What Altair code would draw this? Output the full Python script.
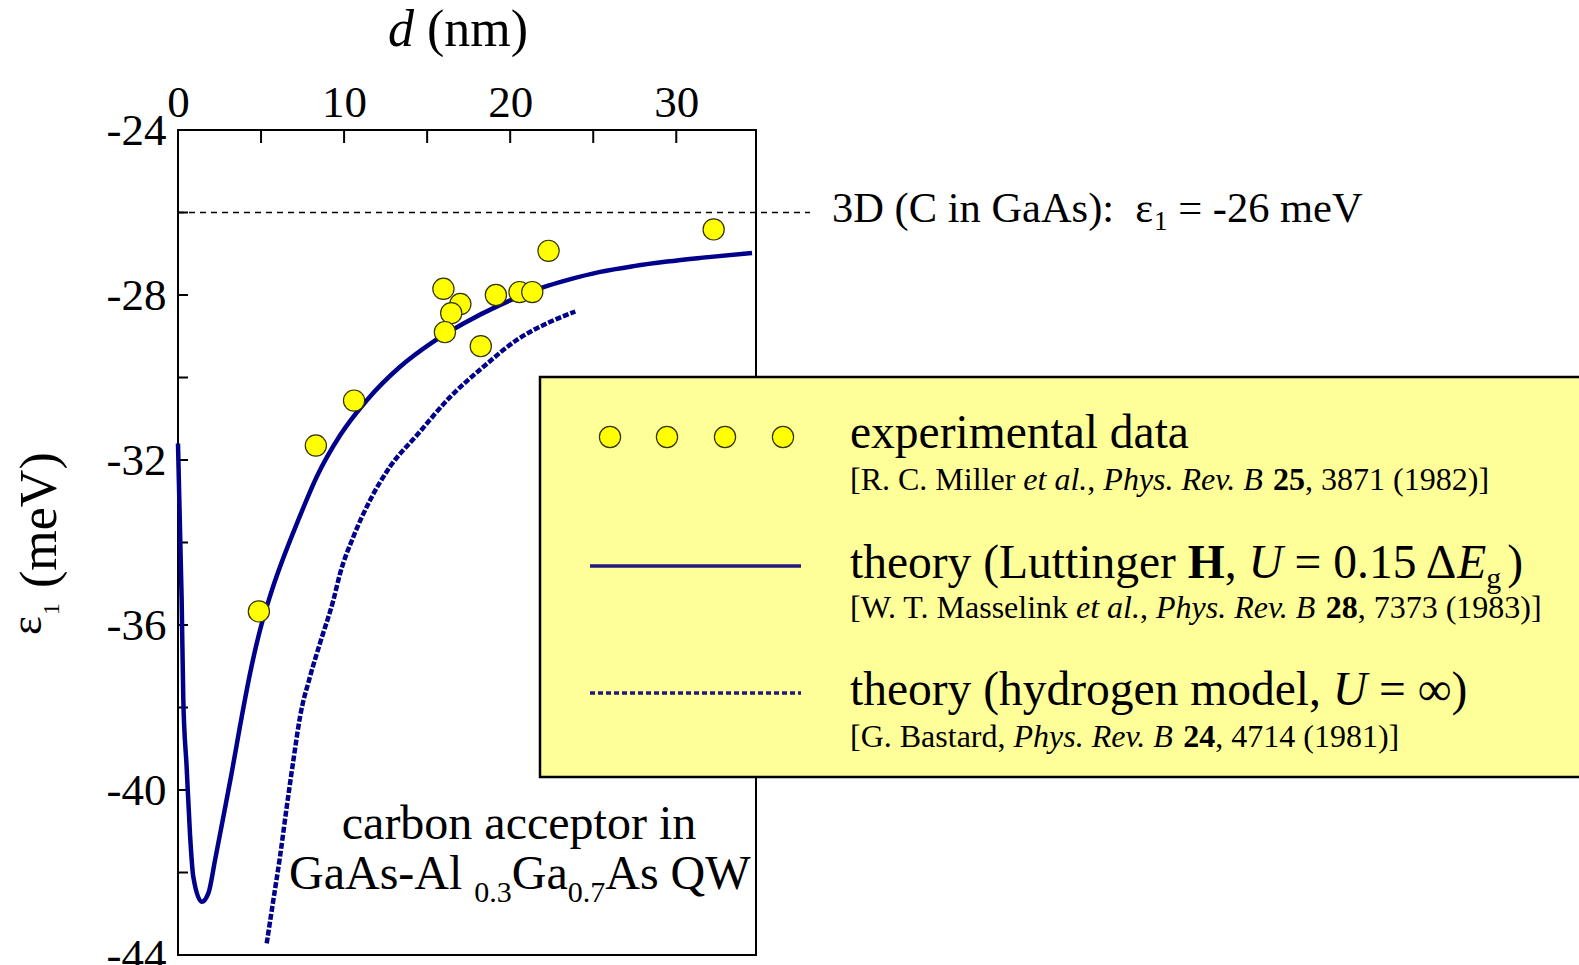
import altair as alt
import pandas as pd

FONT = "Liberation Serif"
NAVY = "#00008B"
LEG_NAVY = "#231780"

# ---------------- data ----------------
# experimental points (d in nm, eps1 in meV)
exp_d = [4.87, 8.30, 10.60, 15.98, 17.00, 16.45, 16.07, 18.23, 19.14, 20.56, 21.33, 22.31, 32.25]
exp_e = [-35.67, -31.65, -30.56, -27.85, -28.22, -28.44, -28.90, -29.24, -28.00, -27.93, -27.93, -26.93, -26.41]

# theory, Luttinger Hamiltonian (solid)
lut_d = [0.00, 0.22, 0.32, 0.52, 0.72, 0.92, 1.43, 1.83, 2.23, 2.73, 3.23, 3.73, 4.34, 4.94, 5.54,
         7.35, 8.36, 9.76, 11.37, 13.37, 15.38, 17.19, 19.40, 22.01, 23.42, 25.42, 27.43, 29.44, 31.45, 34.56]
lut_e = [-31.60, -35.39, -37.82, -39.44, -41.05, -42.10, -42.71, -42.50, -41.70, -40.65, -39.59, -38.46, -37.17, -36.12, -35.30,
         -33.35, -32.40, -31.40, -30.55, -29.74, -29.13, -28.69, -28.24, -27.81, -27.64, -27.44, -27.30, -27.19, -27.10, -26.98]

# theory, hydrogen model (dashed)
hyd_d = [5.34, 5.74, 6.14, 6.55, 6.95, 7.35, 7.95, 8.55, 9.36, 9.76, 10.56, 11.57, 12.77, 14.38, 16.39, 18.39, 20.40, 22.41, 23.92]
hyd_e = [-43.72, -42.67, -41.62, -40.40, -39.27, -38.22, -37.25, -36.44, -35.39, -34.75, -33.86, -32.97, -32.16, -31.40, -30.47, -29.74, -29.09, -28.65, -28.40]

bulk_level = -26
x_labels = [0, 10, 20, 30]
x_minor = [5, 10, 15, 20, 25, 30]
y_labels = [-24, -28, -32, -36, -40, -44]
y_minor = [-26, -28, -30, -32, -34, -36, -38, -40, -42]

# ---------------- layout ----------------
PX0, PY0 = 178, 130      # plot-area origin on the page
W, H = 578, 825

REG = {' ': .25, '(': .333, ')': .333, ',': .25, '-': .333, '.': .25, ':': .278, '=': .564, '[': .333, ']': .333,
       'A': .722, 'B': .667, 'C': .667, 'D': .722, 'E': .611, 'G': .722, 'H': .722, 'L': .611, 'M': .889,
       'Q': .722, 'R': .667, 'T': .611, 'U': .722, 'V': .722, 'W': .944,
       'a': .444, 'b': .5, 'c': .444, 'd': .5, 'e': .444, 'g': .5, 'h': .5, 'i': .278, 'k': .5, 'l': .278,
       'm': .778, 'n': .5, 'o': .5, 'p': .5, 'r': .333, 's': .389, 't': .278, 'u': .5, 'v': .5, 'x': .5, 'y': .5,
       'Δ': .612, '∞': .713, 'ε': .439}
ITA = {'a': .5, 'e': .444, 'h': .5, 'l': .278, 's': .389, 't': .278, 'v': .444, 'y': .444,
       'B': .611, 'E': .611, 'P': .611, 'R': .611, 'U': .722, 'd': .5}
BLD = {'H': .778}


def width(s, kind):
    tab = {"r": {}, "i": ITA, "b": BLD}[kind]
    return sum(tab.get(c, REG.get(c, 0.5)) for c in s)


one = pd.DataFrame({"k": [0]})


def text_layer(s, x, y, size, kind="r", angle=0, align="left"):
    kw = dict(text=s, font=FONT, fontSize=size, align=align, baseline="alphabetic", color="black")
    if kind == "i":
        kw["fontStyle"] = "italic"
    if kind == "b":
        kw["fontWeight"] = "bold"
    if angle:
        kw["angle"] = angle
    return alt.Chart(one).mark_text(**kw).encode(x=alt.value(x - PX0), y=alt.value(y - PY0))


def run_layers(runs, x, y):
    out = []
    for r in runs:
        s, kind, size, dy = r[:4]
        dx = r[4] if len(r) > 4 else 0
        x += dx
        lead = len(s) - len(s.lstrip(' '))
        if s.strip():
            out.append(text_layer(s.strip(), x + lead * 0.25 * size, y + dy, size, kind))
        x += width(s, kind) * size
    return out


# ---------------- encodings ----------------
x_enc = alt.X("d:Q", scale=alt.Scale(domain=[0, 34.8], nice=False, zero=False),
              axis=alt.Axis(orient="top", values=x_labels, ticks=False, domain=False, grid=False,
                            labelFont=FONT, labelFontSize=45, labelColor="black", labelPadding=5,
                            labelFlush=False, labelOverlap=False, title=None))
y_enc = alt.Y("e:Q", scale=alt.Scale(domain=[-44, -24], nice=False, zero=False),
              axis=alt.Axis(orient="left", values=y_labels, ticks=False, domain=False, grid=False,
                            labelFont=FONT, labelFontSize=45, labelColor="black", labelPadding=12,
                            labelFlush=False, labelOverlap=False,
                            labelExpr="'-' + toString(abs(datum.value))", title=None))

layers = []

# frame
layers.append(alt.Chart(one).mark_rect(filled=False, stroke="black", strokeWidth=2).encode(
    x=alt.value(0), x2=alt.value(W), y=alt.value(0), y2=alt.value(H)))

# inward ticks
layers.append(alt.Chart(pd.DataFrame({"d": x_minor})).mark_rule(color="black", strokeWidth=2).encode(
    x=x_enc, y=alt.value(0), y2=alt.value(13)))
layers.append(alt.Chart(pd.DataFrame({"e": y_minor})).mark_rule(color="black", strokeWidth=2).encode(
    y=y_enc, x=alt.value(0), x2=alt.value(10)))

# 3D reference level
layers.append(alt.Chart(pd.DataFrame({"e": [bulk_level]})).mark_rule(
    color="black", strokeWidth=1.5, strokeDash=[6, 5]).encode(
    y=y_enc, x=alt.value(0), x2=alt.value(810 - PX0)))

# curves
layers.append(alt.Chart(pd.DataFrame({"d": hyd_d, "e": hyd_e})).mark_line(
    color=NAVY, strokeWidth=4.5, strokeDash=[6, 2], interpolate="monotone").encode(x=x_enc, y=y_enc))
layers.append(alt.Chart(pd.DataFrame({"d": lut_d, "e": lut_e})).mark_line(
    color=NAVY, strokeWidth=4.5, interpolate="monotone").encode(x=x_enc, y=y_enc))

# points
layers.append(alt.Chart(pd.DataFrame({"d": exp_d, "e": exp_e})).mark_circle(
    size=450, fill="#FFFF00", stroke="#333300", strokeWidth=1.2, opacity=1, fillOpacity=1).encode(x=x_enc, y=y_enc))

# legend box
layers.append(alt.Chart(one).mark_rect(fill="#FFFF99", stroke="black", strokeWidth=2.5).encode(
    x=alt.value(540 - PX0), x2=alt.value(1620 - PX0), y=alt.value(377 - PY0), y2=alt.value(777 - PY0)))

for cx in [610, 667, 725, 783]:
    layers.append(alt.Chart(one).mark_circle(
        size=450, fill="#FFFF00", stroke="#333300", strokeWidth=1.2, opacity=1, fillOpacity=1).encode(
        x=alt.value(cx - PX0), y=alt.value(437 - PY0)))
layers.append(alt.Chart(one).mark_rule(color=LEG_NAVY, strokeWidth=3.5).encode(
    x=alt.value(590 - PX0), x2=alt.value(801 - PX0), y=alt.value(566 - PY0)))
layers.append(alt.Chart(one).mark_rule(color=LEG_NAVY, strokeWidth=3.5, strokeDash=[5, 3]).encode(
    x=alt.value(590 - PX0), x2=alt.value(801 - PX0), y=alt.value(693 - PY0)))

# legend texts
LX = 850
S1, S2 = 47.5, 32
layers += run_layers([("experimental data", "r", S1, 0)], LX, 448)
layers += run_layers([("[R. C. Miller ", "r", S2, 0), ("et al.", "i", S2, 0), (", ", "r", S2, 0),
                      ("Phys. Rev. B", "i", S2, 0), (" ", "r", S2, 0), ("25", "b", S2, 0),
                      (", 3871 (1982)]", "r", S2, 0)], LX, 490)
layers += run_layers([("theory (Luttinger ", "r", S1, 0), ("H", "b", S1, 0), (", ", "r", S1, 0),
                      ("U", "i", S1, 0), (" = 0.15 Δ", "r", S1, 0), ("E", "i", S1, 0),
                      ("g", "r", 30, 10), (")", "r", S1, 0, 6)], LX, 578)
layers += run_layers([("[W. T. Masselink ", "r", S2, 0), ("et al.", "i", S2, 0, -6), (", ", "r", S2, 0),
                      ("Phys. Rev. B", "i", S2, 0), (" ", "r", S2, 0), ("28", "b", S2, 0),
                      (", 7373 (1983)]", "r", S2, 0)], LX, 618)
layers += run_layers([("theory (hydrogen model, ", "r", S1, 0), ("U", "i", S1, 0),
                      (" = ∞)", "r", S1, 0)], LX, 705)
layers += run_layers([("[G. Bastard, ", "r", S2, 0), ("Phys. Rev. B", "i", S2, 0), (" ", "r", S2, 0),
                      ("24", "b", S2, 0), (", 4714 (1981)]", "r", S2, 0)], LX, 747)

# axis titles
layers += run_layers([("d", "i", 52, 0), (" (nm)", "r", 52, 0)], 388, 46)
layers.append(text_layer("ε", 41, 635, 45, angle=270))
layers.append(text_layer("1", 59, 615, 24, angle=270))
layers.append(text_layer("(meV)", 56, 588, 52, angle=270))

# annotations
layers += run_layers([("3D (C in GaAs):  ", "r", 42.5, 0), ("ε", "r", 42.5, 0), ("1", "r", 27, 8),
                      (" = -26 meV", "r", 42.5, 0)], 832, 222)
layers.append(text_layer("carbon acceptor in", 519, 839, 48, align="center"))
layers += run_layers([("GaAs-Al ", "r", 48, 0), ("0.3", "r", 30, 13), ("Ga", "r", 48, 0),
                      ("0.7", "r", 30, 13), ("As QW", "r", 48, 0)], 289, 889)

chart = alt.layer(*layers).properties(
    width=W, height=H,
    autosize=alt.AutoSizeParams(type="none"),
    padding={"left": PX0, "top": PY0, "right": 1579 - PX0 - W, "bottom": 965 - PY0 - H},
    background="white",
).configure_view(strokeWidth=0)

chart.save("out.html", embed_options={"renderer": "svg", "actions": False})
